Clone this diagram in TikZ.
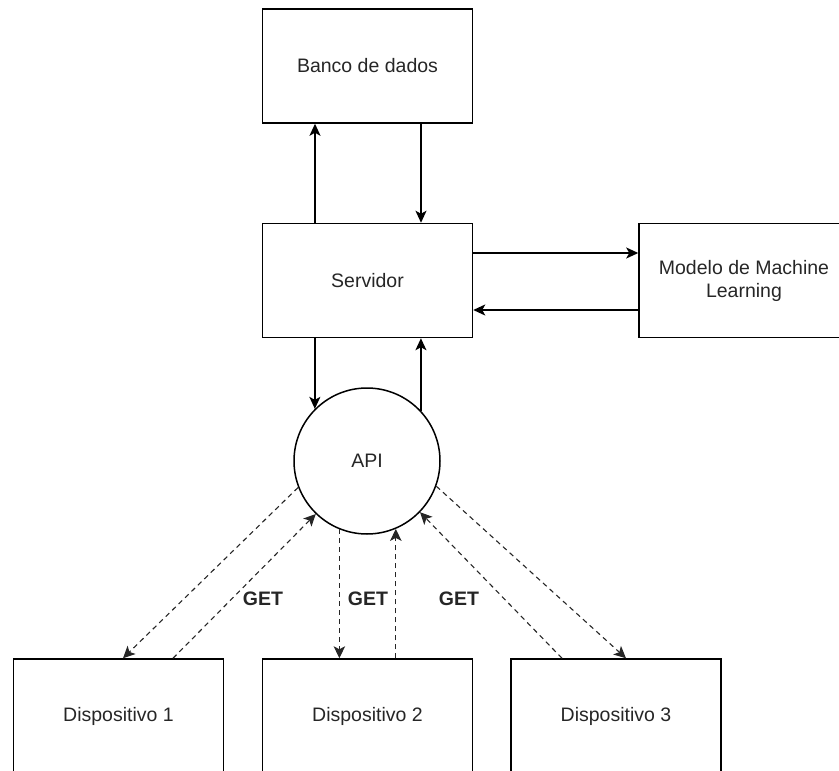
\documentclass[tikz,border=0pt]{standalone}
\usepackage{fontspec}
\setmainfont{Liberation Sans}
\usetikzlibrary{arrows.meta,calc}
\begin{document}
\begin{tikzpicture}[x=1pt,y=-1pt,
  box/.style={draw=black,line width=1.5pt,inset sep,minimum width=210pt,minimum height=114pt,
    align=center,font=\fontsize{19.5}{23}\selectfont,text=black!85},
  inset sep/.style={inner sep=0pt},
  apinode/.style={draw=black,line width=1.5pt,circle,minimum size=146pt,inner sep=0pt,
    font=\fontsize{19.5}{23}\selectfont,text=black!85},
  solidarrow/.style={line width=1.5pt,-{Stealth[length=12pt,width=11pt,inset=3pt]}},
  dasharrow/.style={line width=1.1pt,draw=black!85,dash pattern=on 5pt off 4pt,-{Stealth[length=12pt,width=11.5pt,inset=3pt]}},
  getlabel/.style={font=\bfseries\fontsize{19.5}{23}\selectfont,text=black!85}]
\useasboundingbox (0,0) rectangle (839,771);
\clip (0,0) rectangle (839,771);

% main blocks
\node[box] (banco) at (367.5,66) {Banco de dados};
\node[box] (serv)  at (367.5,280.5) {Servidor};
\node[box] (ml)    at (744,280.5) {Modelo de Machine\\Learning};
\node[apinode] (api) at (367,461) {API};
\node[box] (d1) at (118.5,716) {Dispositivo 1};
\node[box] (d2) at (367.5,716) {Dispositivo 2};
\node[box] (d3) at (616,716) {Dispositivo 3};

% server <-> database
\draw[solidarrow] ($(serv.north)+(-52.5,0)$) -- ($(banco.south)+(-52.5,0)$);
\draw[solidarrow] ($(banco.south)+(53.5,0)$) -- ($(serv.north)+(53.5,0)$);

% server <-> ML model
\draw[solidarrow] ($(serv.east)+(0,-27.5)$) -- ($(ml.west)+(0,-27.5)$);
\draw[solidarrow] ($(ml.west)+(0,29.5)$) -- ($(serv.east)+(0,29.5)$);

% server <-> API
\draw[solidarrow] (api.135 |- serv.south) -- (api.135);
\draw[solidarrow] (api.43) -- (api.43 |- serv.south);

% API <-> devices
\draw[dasharrow] (api.201) -- ($(d1.north)+(4.5,0)$);
\draw[dasharrow] ($(d1.north)+(54.5,0)$) -- (api.226);
\draw[dasharrow] (api.248) -- (api.248 |- d2.north);
\draw[dasharrow] (api.293 |- d2.north) -- (api.293);
\draw[dasharrow] ($(d3.north)+(-54,0)$) -- (api.316);
\draw[dasharrow] (api.340) -- ($(d3.north)+(10,0)$);

% request labels
\node[getlabel] (g1) at (263,599) {GET};
\node[getlabel] (g2) at (368,599) {GET};
\node[getlabel] (g3) at (459,599) {GET};
\end{tikzpicture}
\end{document}
